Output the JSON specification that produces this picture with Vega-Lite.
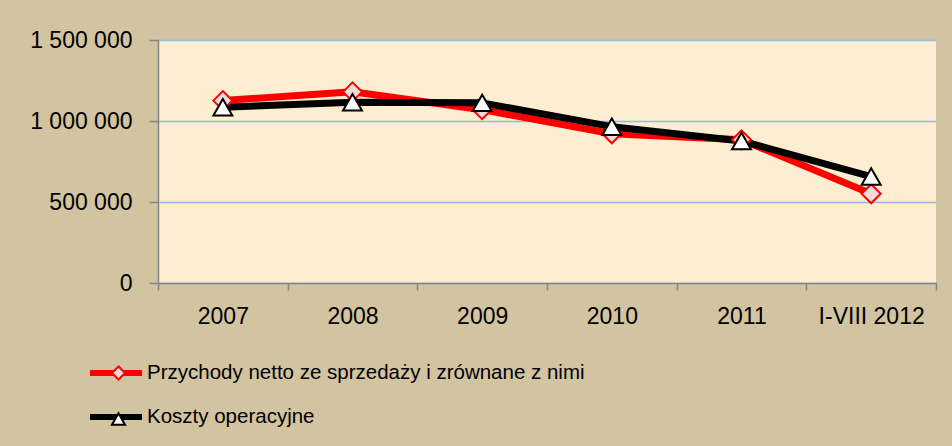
{
  "$schema": "https://vega.github.io/schema/vega-lite/v6.json",
  "width": 778,
  "height": 243,
  "autosize": {"type": "none"},
  "padding": {"left": 158, "top": 40, "right": 16, "bottom": 163},
  "background": "#D2C3A1",
  "config": {
    "locale": {"number": {"decimal": ",", "thousands": " ", "grouping": [3], "currency": ["", " zł"]}},
    "view": {"fill": "#FDEED1", "stroke": null},
    "font": "Liberation Sans"
  },
  "data": {
    "values": [
      {"rok": "2007", "seria": "Przychody netto ze sprzedaży i zrównane z nimi", "wartosc": 1126000},
      {"rok": "2008", "seria": "Przychody netto ze sprzedaży i zrównane z nimi", "wartosc": 1180000},
      {"rok": "2009", "seria": "Przychody netto ze sprzedaży i zrównane z nimi", "wartosc": 1070000},
      {"rok": "2010", "seria": "Przychody netto ze sprzedaży i zrównane z nimi", "wartosc": 921000},
      {"rok": "2011", "seria": "Przychody netto ze sprzedaży i zrównane z nimi", "wartosc": 884000},
      {"rok": "I-VIII 2012", "seria": "Przychody netto ze sprzedaży i zrównane z nimi", "wartosc": 551000},
      {"rok": "2007", "seria": "Koszty operacyjne", "wartosc": 1085000},
      {"rok": "2008", "seria": "Koszty operacyjne", "wartosc": 1116000},
      {"rok": "2009", "seria": "Koszty operacyjne", "wartosc": 1112000},
      {"rok": "2010", "seria": "Koszty operacyjne", "wartosc": 965000},
      {"rok": "2011", "seria": "Koszty operacyjne", "wartosc": 877000},
      {"rok": "I-VIII 2012", "seria": "Koszty operacyjne", "wartosc": 657000}
    ]
  },
  "encoding": {
    "x": {
      "field": "rok", "type": "nominal", "sort": null,
      "scale": {"type": "band", "paddingInner": 0, "paddingOuter": 0},
      "axis": {
        "title": null, "labelAngle": 0, "labelFont": "Liberation Sans", "labelFontSize": 23, "labelColor": "#000000",
        "labelPadding": 15, "tickSize": 7, "tickBand": "extent", "tickColor": "#868686", "tickWidth": 1.5,
        "domainColor": "#868686", "domainWidth": 1.5, "grid": false
      }
    },
    "y": {
      "field": "wartosc", "type": "quantitative",
      "scale": {"domain": [0, 1500000], "nice": false},
      "axis": {
        "title": null, "values": [0, 500000, 1000000, 1500000], "format": ",d",
        "labelFont": "Liberation Sans", "labelFontSize": 23, "labelColor": "#000000", "labelPadding": 17,
        "tickSize": 9, "tickColor": "#868686", "tickWidth": 1.5,
        "domainColor": "#868686", "domainWidth": 1.5,
        "grid": true, "gridColor": "#97B6E2", "gridWidth": 1.5
      }
    }
  },
  "layer": [
    {
      "mark": {"type": "line", "strokeWidth": 7, "strokeCap": "round", "strokeJoin": "round"},
      "encoding": {
        "color": {
          "field": "seria", "type": "nominal", "sort": null,
          "scale": {"domain": ["Przychody netto ze sprzedaży i zrównane z nimi", "Koszty operacyjne"], "range": ["#FF0000", "#000000"]},
          "legend": {
            "title": null, "orient": "none", "legendX": -55, "legendY": 320, "direction": "vertical",
            "padding": 0, "symbolSize": 400, "symbolType": "M-2.6,0H2.6", "symbolStrokeWidth": 6,
            "labelFont": "Liberation Sans", "labelFontSize": 20.5, "labelColor": "#000000",
            "labelLimit": 700, "labelOffset": 18, "rowPadding": 19
          }
        }
      }
    },
    {
      "mark": {"type": "point", "strokeWidth": 2, "opacity": 1, "fillOpacity": 1, "size": 361},
      "encoding": {
        "shape": {
          "field": "seria", "type": "nominal", "sort": null,
          "scale": {"domain": ["Koszty operacyjne", "Przychody netto ze sprzedaży i zrównane z nimi"], "range": ["triangle-up", "diamond"]},
          "legend": {
            "title": null, "orient": "none", "legendX": -49.5, "legendY": 323, "direction": "vertical",
            "values": ["Przychody netto ze sprzedaży i zrównane z nimi", "Koszty operacyjne"],
            "padding": 0, "symbolSize": 169, "symbolStrokeWidth": 2,
            "labelFont": "Liberation Sans", "labelFontSize": 20, "labelOpacity": 0,
            "labelLimit": 700, "labelOffset": 24, "rowPadding": 25
          }
        },
        "stroke": {
          "field": "seria", "type": "nominal", "sort": null,
          "scale": {"domain": ["Koszty operacyjne", "Przychody netto ze sprzedaży i zrównane z nimi"], "range": ["#000000", "#FF0000"]},
          "legend": {
            "title": null, "orient": "none", "legendX": -49.5, "legendY": 323, "direction": "vertical",
            "values": ["Przychody netto ze sprzedaży i zrównane z nimi", "Koszty operacyjne"],
            "padding": 0, "symbolSize": 169, "symbolStrokeWidth": 2,
            "labelFont": "Liberation Sans", "labelFontSize": 20, "labelOpacity": 0,
            "labelLimit": 700, "labelOffset": 24, "rowPadding": 25
          }
        },
        "fill": {
          "field": "seria", "type": "nominal", "sort": null,
          "scale": {"domain": ["Koszty operacyjne", "Przychody netto ze sprzedaży i zrównane z nimi"], "range": ["#FFFFFF", "#F2DCDB"]},
          "legend": {
            "title": null, "orient": "none", "legendX": -49.5, "legendY": 323, "direction": "vertical",
            "values": ["Przychody netto ze sprzedaży i zrównane z nimi", "Koszty operacyjne"],
            "padding": 0, "symbolSize": 169, "symbolStrokeWidth": 2,
            "labelFont": "Liberation Sans", "labelFontSize": 20, "labelOpacity": 0,
            "labelLimit": 700, "labelOffset": 24, "rowPadding": 25
          }
        }
      }
    }
  ]
}
